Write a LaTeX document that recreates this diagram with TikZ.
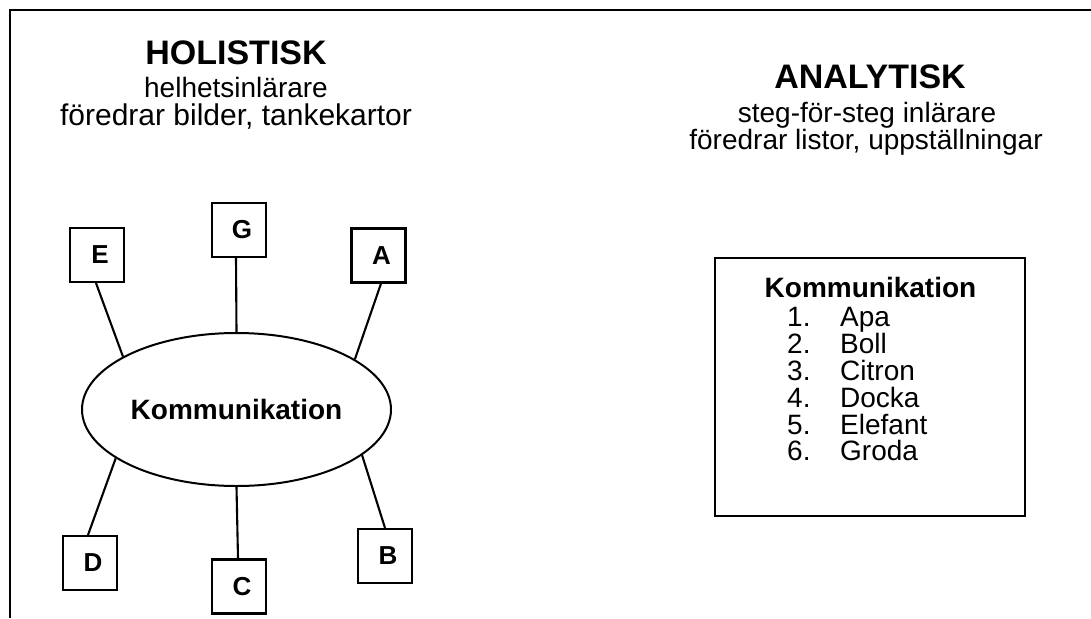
\documentclass[tikz,border=0pt]{standalone}
\usepackage{fontspec}
\setmainfont{Liberation Sans}
\usetikzlibrary{shapes.geometric}
\tikzset{
  frameline/.style={line width=2.2pt},
  link/.style={line width=2.1pt},
  letterbox/.style={draw, line width=2.1pt, minimum size=54pt, inner sep=0pt,
    font=\fontsize{26}{26}\selectfont\bfseries},
  heading/.style={anchor=base, inner sep=0pt, font=\fontsize{34}{34}\selectfont\bfseries},
  subline/.style={anchor=base, inner sep=0pt, font=\fontsize{28}{28}\selectfont},
  listhead/.style={anchor=base, inner sep=0pt, font=\fontsize{28}{28}\selectfont\bfseries},
  listnum/.style={anchor=base west, inner sep=0pt, font=\fontsize{28}{28}\selectfont},
  listitem/.style={anchor=base west, inner sep=0pt, font=\fontsize{28}{28}\selectfont},
}
\begin{document}
\begin{tikzpicture}[x=1pt, y=-1pt]
\useasboundingbox (0,0) rectangle (1091,618);

% page frame (top and left edges)
\coordinate (fbl) at (10,618);
\coordinate (ftl) at (10,10);
\coordinate (ftr) at (1091,10);
\draw[frameline] (fbl) -- (ftl) -- (ftr);

% left column heading
\node[heading] (hol) at (236,64) {HOLISTISK};
\node[subline] (hol1) at (236,97) {helhetsinlärare};
\node[subline, font=\fontsize{30}{30}\selectfont] (hol2) at (236,125) {föredrar bilder, tankekartor};

% right column heading
\node[heading] (ana) at (870,88) {ANALYTISK};
\node[subline] (ana1) at (867,122) {steg-för-steg inlärare};
\node[subline] (ana2) at (866,149) {föredrar listor, uppställningar};

% mind map
\node[draw, ellipse, line width=2pt, minimum width=309pt, minimum height=153pt,
      inner sep=0pt, font=\fontsize{28}{28}\selectfont\bfseries] (core) at (236.5,409.5) {Kommunikation};

\node[letterbox] (E) at (97,255) {\hspace*{6pt}E};
\node[letterbox] (G) at (239,230) {\hspace*{6pt}G};
\node[letterbox] (A) at (378.5,255.5) {\hspace*{6pt}A};
\node[letterbox] (D) at (90,563) {\hspace*{6pt}D};
\node[letterbox] (C) at (239,586.5) {\hspace*{6pt}C};
\node[letterbox] (B) at (385,556) {\hspace*{6pt}B};

\draw[link] ([xshift=-1pt]E.south) -- (core.155);
\draw[link] ([xshift=-3pt]G.south) -- (core.north);
\draw[link] ([xshift=2.5pt]A.south) -- (core.23.5);
\draw[link] ([xshift=-2pt]D.north) -- (core.202);
\draw[link] ([xshift=-1pt]C.north) -- (core.south);
\draw[link] (B.north) -- (core.340);

% list box
\node[draw, line width=2.4pt, minimum width=310pt, minimum height=258pt, inner sep=0pt] (list) at (870,387) {};
\node[listhead] (lh) at (870.5,297) {Kommunikation};
\node[listnum] (n1) at (787,326) {1.};
\node[listitem] (i1) at (840,326) {Apa};
\node[listnum] (n2) at (787,353) {2.};
\node[listitem] (i2) at (840,353) {Boll};
\node[listnum] (n3) at (787,380) {3.};
\node[listitem] (i3) at (840,380) {Citron};
\node[listnum] (n4) at (787,407) {4.};
\node[listitem] (i4) at (840,407) {Docka};
\node[listnum] (n5) at (787,434) {5.};
\node[listitem] (i5) at (840,434) {Elefant};
\node[listnum] (n6) at (787,460) {6.};
\node[listitem] (i6) at (840,460) {Groda};
\end{tikzpicture}
\end{document}
